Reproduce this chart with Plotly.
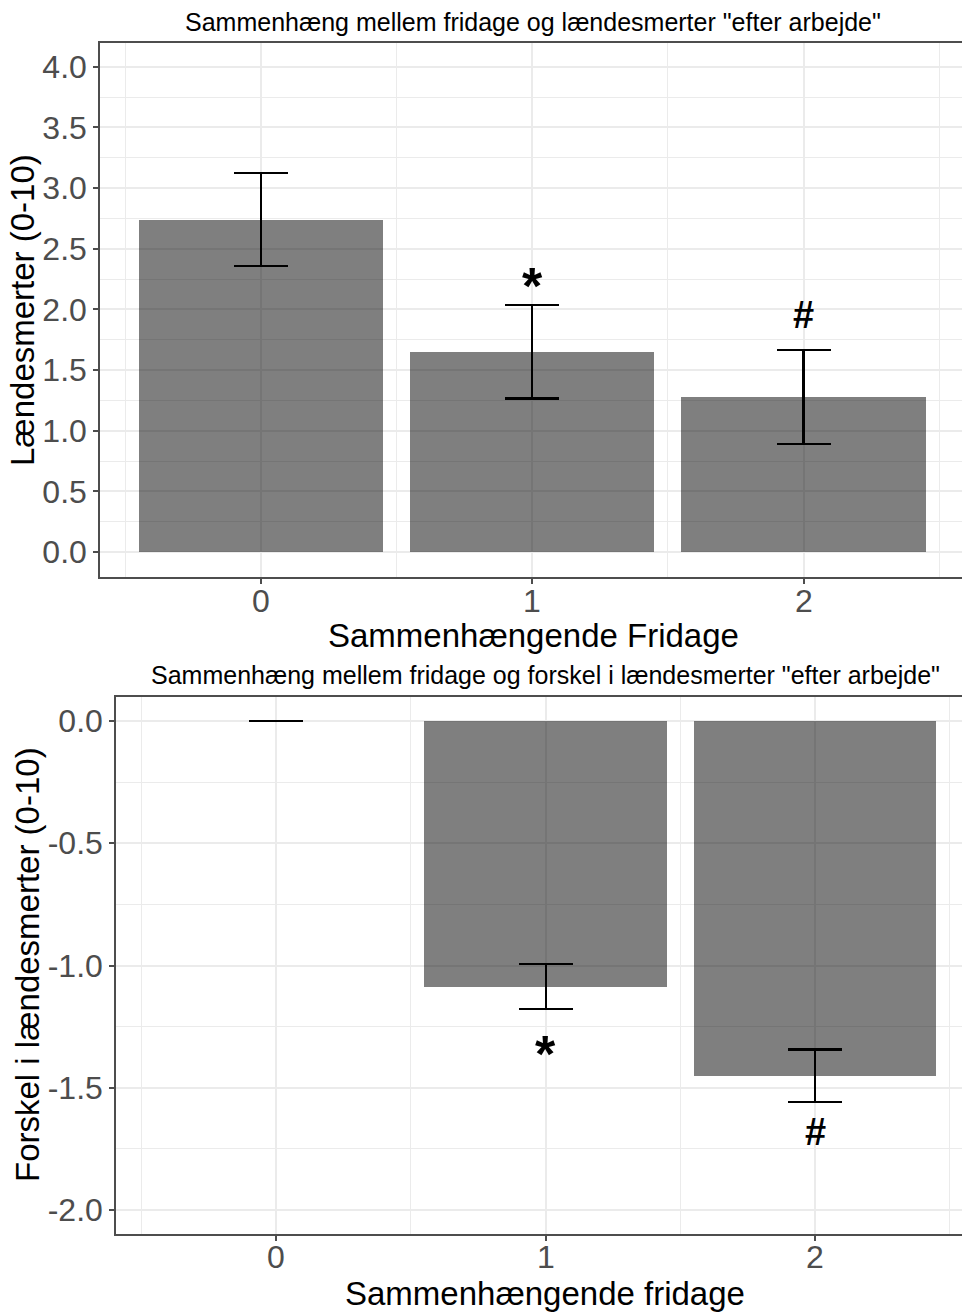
import plotly.graph_objects as go

# --- data -------------------------------------------------------------
days = [0, 1, 2]
day_labels = ["0", "1", "2"]

# Upper panel: mean low-back pain after work, with standard errors
pain_mean = [2.74, 1.65, 1.28]
pain_se = [0.382, 0.385, 0.387]
pain_marks = ["", "*", "#"]

# Lower panel: difference in low-back pain vs. 0 days off
diff_mean = [0.0, -1.086, -1.45]
diff_se = [0.0, 0.093, 0.107]
diff_marks = ["", "*", "#"]

top_yticks = [0.0, 0.5, 1.0, 1.5, 2.0, 2.5, 3.0, 3.5, 4.0]
bot_yticks = [0.0, -0.5, -1.0, -1.5, -2.0]

# --- style ------------------------------------------------------------
W, H = 962, 1313
FONT = "Liberation Sans, Arial, sans-serif"
BAR = "rgba(0,0,0,0.5)"
GRID = "#EBEBEB"
BORDER = "#4D4D4D"
TICKTXT = "#4D4D4D"


def px_x(p):
    return p / W


def px_y(p):
    return 1 - p / H


fig = go.Figure()

fig.add_trace(go.Bar(
    x=days, y=pain_mean, width=0.9, marker=dict(color=BAR, line=dict(width=0)),
    error_y=dict(type="data", array=pain_se, visible=True, color="black",
                 thickness=2.2, width=27),
    xaxis="x", yaxis="y", showlegend=False, hoverinfo="skip",
))

fig.add_trace(go.Bar(
    x=days, y=diff_mean, width=0.9, marker=dict(color=BAR, line=dict(width=0)),
    error_y=dict(type="data", array=diff_se, visible=True, color="black",
                 thickness=2.2, width=27),
    xaxis="x2", yaxis="y2", showlegend=False, hoverinfo="skip",
))

axis_common = dict(
    showline=True, linecolor=BORDER, linewidth=1.5,
    ticks="outside", ticklen=5, tickwidth=1.5, tickcolor=BORDER,
    tickfont=dict(family=FONT, size=32, color=TICKTXT),
    showgrid=True, gridcolor=GRID, gridwidth=1.5, zeroline=False,
)

fig.update_layout(
    width=W, height=H, margin=dict(l=0, r=0, t=0, b=0),
    paper_bgcolor="white", plot_bgcolor="white",
    font=dict(family=FONT),
    xaxis=dict(domain=[px_x(100), 1.0], range=[-0.593, 2.584], anchor="y",
               mirror=True, tickvals=days, showticklabels=False,
               minor=dict(tickvals=[-0.5, 0.5, 1.5, 2.5], showgrid=True,
                          gridcolor=GRID, gridwidth=1, ticks=""),
               **axis_common),
    yaxis=dict(domain=[px_y(577), px_y(43)], range=[-0.206, 4.196], anchor="x",
               tickvals=top_yticks, ticktext=[f"{v:.1f}" for v in top_yticks],
               minor=dict(tickvals=[0.25, 0.75, 1.25, 1.75, 2.25, 2.75, 3.25, 3.75],
                          showgrid=True, gridcolor=GRID, gridwidth=1, ticks=""),
               **axis_common),
    xaxis2=dict(domain=[px_x(116), 1.0], range=[-0.594, 2.545], anchor="y2",
                mirror=True, tickvals=days, showticklabels=False,
                minor=dict(tickvals=[-0.5, 0.5, 1.5, 2.5], showgrid=True,
                           gridcolor=GRID, gridwidth=1, ticks=""),
                **axis_common),
    yaxis2=dict(domain=[px_y(1234.3), px_y(696.7)], range=[-2.099, 0.0994], anchor="x2",
                tickvals=bot_yticks, ticktext=[f"{v:.1f}" for v in bot_yticks],
                minor=dict(tickvals=[-0.25, -0.75, -1.25, -1.75], showgrid=True,
                           gridcolor=GRID, gridwidth=1, ticks=""),
                **axis_common),
    bargap=0,
)

annotations = []

# category labels under each panel
for d, t in zip(days, day_labels):
    annotations.append(dict(x=d, y=px_y(601), xref="x", yref="paper", text=t,
                            showarrow=False, xanchor="center", yanchor="middle",
                            font=dict(family=FONT, size=32, color=TICKTXT)))
    annotations.append(dict(x=d, y=px_y(1257), xref="x2", yref="paper", text=t,
                            showarrow=False, xanchor="center", yanchor="middle",
                            font=dict(family=FONT, size=32, color=TICKTXT)))

# significance markers above / below the error bars
mark_shift_top = {"*": 19, "#": 35}
mark_shift_bot = {"*": -45, "#": -30}
mark_size = {"*": 52, "#": 38}
for d, m, s, mk in zip(days, pain_mean, pain_se, pain_marks):
    if mk:
        annotations.append(dict(
            x=d, y=m + s, xref="x", yref="y", text=f"<b>{mk}</b>", showarrow=False,
            yanchor="middle", yshift=mark_shift_top[mk],
            font=dict(family=FONT, size=mark_size[mk], color="black"),
        ))
for d, m, s, mk in zip(days, diff_mean, diff_se, diff_marks):
    if mk:
        annotations.append(dict(
            x=d, y=m - s, xref="x2", yref="y2", text=f"<b>{mk}</b>", showarrow=False,
            yanchor="middle", yshift=mark_shift_bot[mk],
            font=dict(family=FONT, size=mark_size[mk], color="black"),
        ))

# titles and axis titles
def label(text, x, y, size, angle=0):
    return dict(text=text, x=px_x(x), y=px_y(y), xref="paper", yref="paper",
                showarrow=False, xanchor="center", yanchor="middle",
                textangle=angle, font=dict(family=FONT, size=size, color="black"))

annotations += [
    label('Sammenhæng mellem fridage og lændesmerter "efter arbejde"', 533, 22, 25),
    label("Lændesmerter (0-10)", 22, 310, 33, -90),
    label("Sammenhængende Fridage", 533, 635, 33),
    label('Sammenhæng mellem fridage og forskel i lændesmerter "efter arbejde"', 545, 675, 25),
    label("Forskel i lændesmerter (0-10)", 27, 965, 33, -90),
    label("Sammenhængende fridage", 545, 1293, 33),
]
fig.update_layout(annotations=annotations)

fig.write_html("out.html")
